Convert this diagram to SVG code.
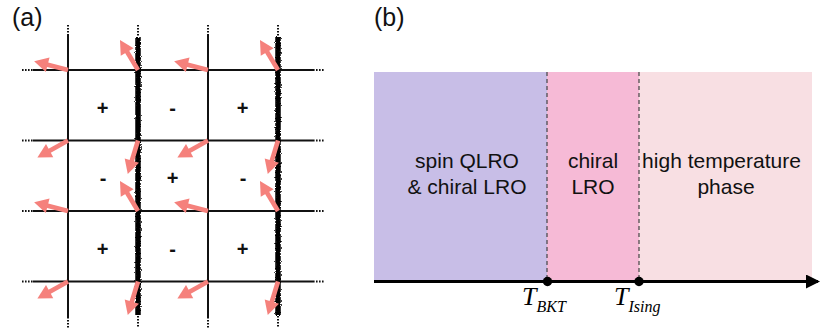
<svg xmlns="http://www.w3.org/2000/svg" xmlns:xlink="http://www.w3.org/1999/xlink" width="830" height="329" viewBox="0 0 830 329">
<style>
.lbl{font-family:"Liberation Sans",Arial,Helvetica,sans-serif;fill:#111;}
.big{font-size:25px;}
.ph{font-size:21px;text-anchor:middle;}
.sg{font-size:20px;font-weight:bold;text-anchor:middle;}
.grid{stroke:#111;stroke-width:2;fill:none;}
.dot{stroke:#111;stroke-width:2;stroke-dasharray:1.6 1.4;fill:none;}
.thick{stroke:#000;stroke-width:5.5;fill:none;filter:url(#rough);}
.core{stroke:#000;stroke-width:3.5;fill:none;}
.sep{stroke:#444;stroke-width:1.2;stroke-dasharray:4 3;fill:none;}
.tm{font-family:"Liberation Serif","Times New Roman",serif;font-style:italic;fill:#000;}
</style>
<defs>
<filter id="rough" filterUnits="userSpaceOnUse" x="0" y="0" width="830" height="329">
<feTurbulence type="fractalNoise" baseFrequency="0.8" numOctaves="2" seed="3" result="n"/>
<feDisplacementMap in="SourceGraphic" in2="n" scale="3.5" xChannelSelector="R" yChannelSelector="G"/>
</filter>
<g id="arr">
<rect x="0" y="-2.3" width="23" height="4.6" fill="#F5817C"/>
<polygon points="21,-7.5 35,0 21,7.5" fill="#F5817C"/>
</g>
<marker id="ah" markerWidth="14" markerHeight="14" refX="12" refY="7" orient="auto" markerUnits="userSpaceOnUse">
<polygon points="0,0 14,7 0,14" fill="#000"/>
</marker>
</defs>
<rect width="830" height="329" fill="#fff"/>

<g id="panel-a">
<text class="lbl big" x="12" y="26">(a)</text>
<g id="lattice">
<g id="h-lines">
<line class="grid" x1="33" y1="70" x2="313" y2="70"/>
<line class="grid" x1="33" y1="140.5" x2="313" y2="140.5"/>
<line class="grid" x1="33" y1="211" x2="313" y2="211"/>
<line class="grid" x1="33" y1="281.5" x2="313" y2="281.5"/>
<line class="dot" x1="22" y1="70" x2="33" y2="70"/><line class="dot" x1="313" y1="70" x2="324" y2="70"/>
<line class="dot" x1="22" y1="140.5" x2="33" y2="140.5"/><line class="dot" x1="313" y1="140.5" x2="324" y2="140.5"/>
<line class="dot" x1="22" y1="211" x2="33" y2="211"/><line class="dot" x1="313" y1="211" x2="324" y2="211"/>
<line class="dot" x1="22" y1="281.5" x2="33" y2="281.5"/><line class="dot" x1="313" y1="281.5" x2="324" y2="281.5"/>
</g>
<g id="v-lines">
<line class="grid" x1="68" y1="35" x2="68" y2="317"/>
<line class="grid" x1="208" y1="35" x2="208" y2="317"/>
<line class="core" x1="138" y1="38" x2="138" y2="314"/>
<line class="core" x1="278" y1="38" x2="278" y2="314"/>
<line class="thick" x1="138" y1="37" x2="138" y2="315"/>
<line class="thick" x1="278" y1="37" x2="278" y2="315"/>
<line class="dot" x1="68" y1="25" x2="68" y2="35"/><line class="dot" x1="68" y1="317" x2="68" y2="328"/>
<line class="dot" x1="208" y1="25" x2="208" y2="35"/><line class="dot" x1="208" y1="317" x2="208" y2="328"/>
<line class="dot" x1="138" y1="25" x2="138" y2="36"/><line class="dot" x1="138" y1="316" x2="138" y2="328"/>
<line class="dot" x1="278" y1="25" x2="278" y2="36"/><line class="dot" x1="278" y1="316" x2="278" y2="328"/>
</g>
</g>
<g id="spins">
<use xlink:href="#arr" transform="translate(68,70) rotate(194.5)"/>
<use xlink:href="#arr" transform="translate(138,70) rotate(239)"/>
<use xlink:href="#arr" transform="translate(208,70) rotate(194.5)"/>
<use xlink:href="#arr" transform="translate(278,70) rotate(239)"/>
<use xlink:href="#arr" transform="translate(68,140.5) rotate(151)"/>
<use xlink:href="#arr" transform="translate(138,140.5) rotate(107)"/>
<use xlink:href="#arr" transform="translate(208,140.5) rotate(151)"/>
<use xlink:href="#arr" transform="translate(278,140.5) rotate(107)"/>
<use xlink:href="#arr" transform="translate(68,211) rotate(194.5)"/>
<use xlink:href="#arr" transform="translate(138,211) rotate(239)"/>
<use xlink:href="#arr" transform="translate(208,211) rotate(194.5)"/>
<use xlink:href="#arr" transform="translate(278,211) rotate(239)"/>
<use xlink:href="#arr" transform="translate(68,281.5) rotate(151)"/>
<use xlink:href="#arr" transform="translate(138,281.5) rotate(107)"/>
<use xlink:href="#arr" transform="translate(208,281.5) rotate(151)"/>
<use xlink:href="#arr" transform="translate(278,281.5) rotate(107)"/>
</g>
<g id="chirality">
<text class="lbl sg" x="102.5" y="114.5">+</text>
<text class="lbl sg" x="172.5" y="114.5">-</text>
<text class="lbl sg" x="242.5" y="114.5">+</text>
<text class="lbl sg" x="103" y="185">-</text>
<text class="lbl sg" x="172.5" y="185">+</text>
<text class="lbl sg" x="243" y="185">-</text>
<text class="lbl sg" x="102.5" y="255.5">+</text>
<text class="lbl sg" x="172.5" y="255.5">-</text>
<text class="lbl sg" x="242.5" y="255.5">+</text>
</g>
</g>

<g id="panel-b">
<text class="lbl big" x="374" y="26">(b)</text>
<g id="phase-qlro">
<rect x="374" y="72" width="173" height="209" fill="#C8BEE7"/>
<text class="lbl ph" x="467" y="168">spin QLRO</text>
<text class="lbl ph" x="467" y="194">&amp; chiral LRO</text>
</g>
<g id="phase-chiral">
<rect x="547" y="72" width="92" height="209" fill="#F6BAD6"/>
<text class="lbl ph" x="593" y="168">chiral</text>
<text class="lbl ph" x="593" y="194">LRO</text>
</g>
<g id="phase-high">
<rect x="639" y="72" width="173" height="209" fill="#F8DFE3"/>
<text class="lbl ph" x="721.5" y="168">high temperature</text>
<text class="lbl ph" x="726" y="194">phase</text>
</g>
<g id="connectors">
<line class="sep" x1="547" y1="72" x2="547" y2="281"/>
<line class="sep" x1="639" y1="72" x2="639" y2="281"/>
<line x1="374" y1="281.5" x2="818" y2="281.5" stroke="#000" stroke-width="3" marker-end="url(#ah)"/>
</g>
<g id="t-bkt">
<circle cx="547.5" cy="281.5" r="4.7" fill="#000"/>
<text class="tm" x="522" y="305" font-size="26">T<tspan font-size="16" dy="7">BKT</tspan></text>
</g>
<g id="t-ising">
<circle cx="639" cy="281.5" r="4.7" fill="#000"/>
<text class="tm" x="614" y="305" font-size="26">T<tspan font-size="16" dy="7">Ising</tspan></text>
</g>
</g>
</svg>
